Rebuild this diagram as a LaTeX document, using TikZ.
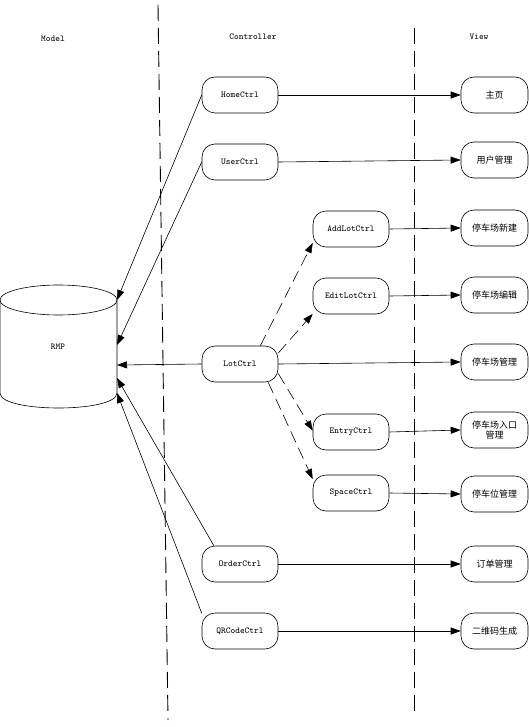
\documentclass[tikz,border=0pt]{standalone}
\usepackage{fontspec}
\newfontfamily\cjk{Noto Sans CJK SC}
\usetikzlibrary{arrows.meta}
\begin{document}
\begin{tikzpicture}[x=1pt,y=-1pt,
  ctrl/.style={draw, line width=0.6pt, rounded corners=13pt, minimum width=76pt,
    minimum height=36pt, inner sep=1pt, font=\ttfamily\fontsize{9}{10}\selectfont},
  viewbox/.style={draw, line width=0.6pt, rounded corners=13pt, minimum width=67pt,
    minimum height=36pt, inner sep=1pt, align=center,
    font=\cjk\fontsize{9}{10}\selectfont},
  lanetitle/.style={font=\ttfamily\fontsize{9}{10}\selectfont},
  flow/.style={draw, line width=0.6pt, -{Triangle[length=10pt,width=7pt]}},
  derive/.style={flow, dash pattern=on 12pt off 6pt},
  lane/.style={line width=0.9pt, dash pattern=on 16pt off 7pt}]
\useasboundingbox (0,0) rectangle (529,727);

% swim lane separators
\draw[lane] (158,5) -- (168,720);
\draw[lane] (414,28) -- (414,713);

% lane titles
\node[lanetitle] (tmodel) at (53,39) {Model};
\node[lanetitle] (tctrl) at (253,37) {Controller};
\node[lanetitle] (tview) at (479,37) {View};

% model: RMP database cylinder
\draw[line width=0.6pt] (58.5,300) ellipse [x radius=58.5, y radius=15];
\draw[line width=0.6pt] (0,300) -- (0,393) .. controls (0,413) and (117,413) .. (117,393) -- (117,300);
\node[lanetitle] (rmp) at (58,347) {RMP};
\coordinate (r1) at (117,300);
\coordinate (r2) at (117,345);
\coordinate (r3) at (117,365);
\coordinate (r4) at (117,378);
\coordinate (r5) at (117,393);

% controllers
\node[ctrl] (home) at (240,95) {HomeCtrl};
\node[ctrl] (user) at (240,162) {UserCtrl};
\node[ctrl] (addlot) at (351,229) {AddLotCtrl};
\node[ctrl] (editlot) at (351,296) {EditLotCtrl};
\node[ctrl] (lot) at (240,364) {LotCtrl};
\node[ctrl] (entry) at (351,432) {EntryCtrl};
\node[ctrl] (space) at (351,493) {SpaceCtrl};
\node[ctrl] (order) at (240,564) {OrderCtrl};
\node[ctrl] (qr) at (240,631) {QRCodeCtrl};

% views
\node[viewbox] (vhome) at (494.5,95) {主页};
\node[viewbox] (vuser) at (494.5,160) {用户管理};
\node[viewbox] (vadd) at (494.5,228) {停车场新建};
\node[viewbox] (vedit) at (494.5,295) {停车场编辑};
\node[viewbox] (vlot) at (494.5,362) {停车场管理};
\node[viewbox] (ventry) at (494.5,430) {停车场入口\\管理};
\node[viewbox] (vspace) at (494.5,494) {停车位管理};
\node[viewbox] (vorder) at (494.5,564) {订单管理};
\node[viewbox] (vqr) at (494.5,631) {二维码生成};

% controllers to views
\draw[flow] (home.east) -- (vhome.west);
\draw[flow] (user.east) -- (vuser.west);
\draw[flow] (addlot.east) -- (vadd.west);
\draw[flow] (editlot.east) -- (vedit.west);
\draw[flow] (lot.east) -- (vlot.west);
\draw[flow] (entry.east) -- (ventry.west);
\draw[flow] (space.east) -- (vspace.west);
\draw[flow] (order.east) -- (vorder.west);
\draw[flow] (qr.east) -- (vqr.west);

% controllers to model
\draw[flow] (home.west) -- (r1);
\draw[flow] (user.west) -- (r2);
\draw[flow] (lot.west) -- (r3);
\draw[flow] (order.145) -- (r4);
\draw[flow] (qr.155) -- (r5);

% LotCtrl delegates to sub-controllers
\draw[derive] (lot.42) -- (addlot.200);
\draw[derive] (lot.16) -- (editlot.205);
\draw[derive] (lot.-14) -- (entry.178);
\draw[derive] (lot.-33) -- (space.160);
\end{tikzpicture}
\end{document}
